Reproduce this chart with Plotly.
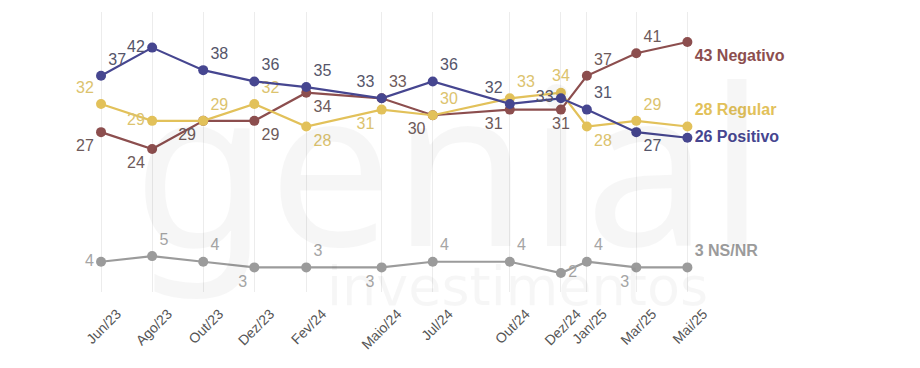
import plotly.graph_objects as go

dates = ["2023-06-01", "2023-08-01", "2023-10-01", "2023-12-01", "2024-02-01", "2024-05-01",
         "2024-07-01", "2024-10-01", "2024-12-01", "2025-01-01", "2025-03-01", "2025-05-01"]
tick_labels = ["Jun/23", "Ago/23", "Out/23", "Dez/23", "Fev/24", "Maio/24",
               "Jul/24", "Out/24", "Dez/24", "Jan/25", "Mar/25", "Mai/25"]

negativo = [27, 24, 29, 29, 34, 33, 30, 31, 31, 37, 41, 43]
regular = [32, 29, 29, 32, 28, 31, 30, 33, 34, 28, 29, 28]
positivo = [37, 42, 38, 36, 35, 33, 36, 32, 33, 31, 27, 26]
nsnr = [4, 5, 4, 3, 3, 3, 4, 4, 2, 4, 3, 3]

series = [
    dict(name="NS/NR", values=nsnr, color="#9b9b9b", tcolor="#a5a5a5",
         pos=["middle left", "top right", "top right", "bottom left", "top right", "bottom left",
              "top right", "top right", "middle right", "top right", "bottom left", "top right"]),
    dict(name="Negativo", values=negativo, color="#8c4e4e", tcolor="#6e5a5a",
         pos=["bottom left", "bottom left", "bottom left", "bottom right", "bottom right", "top right",
              "bottom left", "bottom left", "bottom center", "top right", "top right", "bottom right"]),
    dict(name="Regular", values=regular, color="#e2c15a", tcolor="#dcc36e",
         pos=["top left", "middle left", "top right", "top right", "bottom right", "bottom left",
              "top right", "top right", "top center", "bottom right", "top right", "top right"]),
    dict(name="Positivo", values=positivo, color="#464690", tcolor="#55556a",
         pos=["top right", "middle left", "top right", "top right", "top right", "top left",
              "top right", "top left", "middle left", "top right", "bottom right", "middle right"]),
]

fig = go.Figure()

for s in series:
    vals = s["values"]
    texts = [str(v) for v in vals[:-1]] + [f"<b>{vals[-1]} {s['name']}</b>"]
    colors = [s["tcolor"]] * (len(vals) - 1) + [s["color"]]
    sizes = [16] * (len(vals) - 1) + [16]
    fig.add_trace(go.Scatter(
        x=dates, y=vals, mode="lines+markers+text",
        line=dict(color=s["color"], width=2.2),
        marker=dict(color=s["color"], size=10),
        text=texts, textposition=s["pos"],
        textfont=dict(family="Liberation Sans, Arial, sans-serif", size=sizes, color=colors),
        showlegend=False, cliponaxis=False, hoverinfo="skip",
    ))

fig.add_annotation(text="genial", xref="paper", yref="paper", x=0.52, y=0.468,
                   xanchor="center", yanchor="middle",
                   showarrow=False, font=dict(family="Noto Sans, sans-serif", size=220,
                                              color="rgba(0,0,0,0.035)"))
fig.add_annotation(text="investimentos", xref="paper", yref="paper", x=0.611, y=0.02,
                   xanchor="center", yanchor="middle",
                   showarrow=False, font=dict(family="DejaVu Sans, sans-serif", size=54,
                                              color="rgba(0,0,0,0.035)"))

fig.update_layout(
    width=920, height=368,
    margin=dict(l=52, r=120, t=4, b=84),
    plot_bgcolor="white", paper_bgcolor="white",
    font=dict(family="Liberation Sans, Arial, sans-serif"),
    xaxis=dict(type="date", range=["2023-04-13", "2025-09-22"],
               tickvals=dates, ticktext=tick_labels, tickangle=-45,
               ticklabelshift=16, ticklabelstandoff=10,
               showgrid=True, gridcolor="#ececec", gridwidth=1,
               zeroline=False, showline=False, ticks="",
               tickfont=dict(size=14, color="#555555")),
    yaxis=dict(range=[-1.37, 48.32], visible=False, showgrid=False, zeroline=False),
)

fig.write_html("out.html")
